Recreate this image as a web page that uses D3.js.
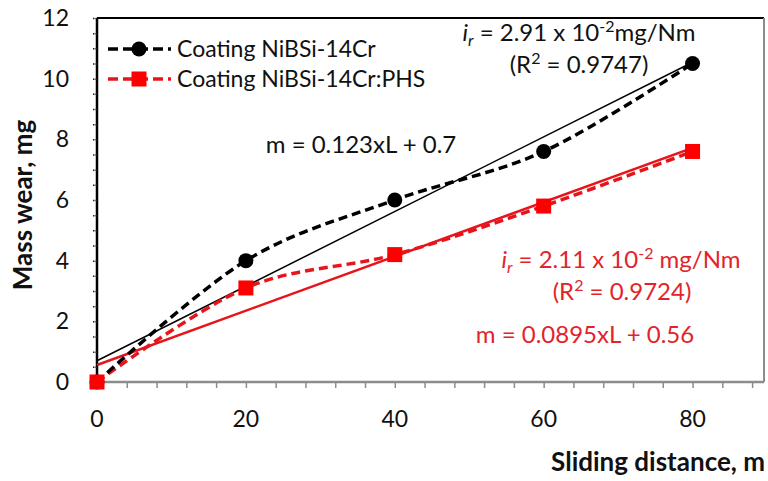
<!DOCTYPE html>
<html>
<head>
<meta charset="utf-8">
<script src="https://cdn.jsdelivr.net/npm/d3@7"></script>
<style>
  body { margin: 0; background: #fff; }
  text { font-family: Lato, 'Open Sans', sans-serif; }
</style>
</head>
<body>
<script>

// sliding distance, m
var distance = [0, 20, 40, 60, 80];
// mass wear, mg
var wearNiBSi = [0, 4, 6, 7.6, 10.5];
var wearPHS = [0, 3.1, 4.2, 5.8, 7.6];

var seriesNames = ['Coating NiBSi-14Cr', 'Coating NiBSi-14Cr:PHS'];

// linear fits m = a*L + b
var fitNiBSi = [0.123, 0.7];
var fitPHS = [0.0895, 0.56];

var xTicks = [0, 20, 40, 60, 80];
var yTicks = [0, 2, 4, 6, 8, 10, 12];

var black = '#000',
    red = '#ff0000',
    redText = '#e3232b';

var width = 768,
    height = 481;

var svg = d3.select('body').append('svg')
    .attr('width', width)
    .attr('height', height);

var x = d3.scaleLinear().domain([0, 90]).range([97, 767]);
var y = d3.scaleLinear().domain([0, 12]).range([382, 18]);

// frame: top black, right grey
svg.append('line')
    .attr('x1', x(0)).attr('x2', x(89.6))
    .attr('y1', y(12)).attr('y2', y(12))
    .attr('stroke', black).attr('stroke-width', 2);
svg.append('line')
    .attr('x1', x(89.6)).attr('x2', x(89.6))
    .attr('y1', y(12)).attr('y2', y(0))
    .attr('stroke', '#8c8c8c').attr('stroke-width', 2);

// x axis (grey, minor ticks every 4)
var xAxis = d3.axisBottom(x)
    .tickValues(d3.range(0, 89, 4))
    .tickSize(6)
    .tickFormat('');

var gx = svg.append('g')
    .attr('transform', 'translate(0,' + y(0) + ')')
    .call(xAxis);
gx.select('.domain').attr('stroke', '#8c8c8c').attr('stroke-width', 2.5)
    .attr('d', 'M' + x(0) + ',0H' + x(89.6));
gx.selectAll('.tick line').attr('stroke', '#8c8c8c').attr('stroke-width', 1.5);

svg.append('g').selectAll('text')
    .data(xTicks)
    .enter().append('text')
    .attr('x', function(d) { return x(d); })
    .attr('y', 427)
    .attr('text-anchor', 'middle')
    .attr('font-size', '23px')
    .attr('fill', '#111')
    .text(function(d) { return d; });

// y axis (black, minor ticks every 0.5)
var yAxis = d3.axisLeft(y)
    .tickValues(d3.range(0, 12.01, 0.5))
    .tickSize(4)
    .tickFormat('');

var gy = svg.append('g')
    .attr('transform', 'translate(' + x(0) + ',0)')
    .call(yAxis);
gy.select('.domain').attr('stroke', black).attr('stroke-width', 2.5)
    .attr('d', 'M0,' + y(12) + 'V' + y(0));
gy.selectAll('.tick line').attr('stroke', '#222').attr('stroke-width', 1.5)
    .attr('stroke-dasharray', '1.5,1');

svg.append('g').selectAll('text')
    .data(yTicks)
    .enter().append('text')
    .attr('x', 69)
    .attr('y', function(d) { return y(d) + 8; })
    .attr('text-anchor', 'end')
    .attr('font-size', '23px')
    .attr('fill', '#111')
    .text(function(d) { return d; });

// axis titles
svg.append('text')
    .attr('text-anchor', 'end')
    .attr('x', 765)
    .attr('y', 471)
    .attr('font-size', '26px')
    .attr('font-weight', 'bold')
    .attr('fill', '#111')
    .text('Sliding distance, m');

svg.append('text')
    .attr('text-anchor', 'middle')
    .attr('transform', 'translate(32,205)rotate(-90)')
    .attr('font-size', '26px')
    .attr('font-weight', 'bold')
    .attr('fill', '#111')
    .text('Mass wear, mg');

// trend lines
function fitLine(fit, color, w) {
    svg.append('line')
        .attr('x1', x(0)).attr('y1', y(fit[1]))
        .attr('x2', x(80)).attr('y2', y(fit[0] * 80 + fit[1]))
        .attr('stroke', color)
        .attr('stroke-width', w);
}
fitLine(fitNiBSi, black, 1.5);
fitLine(fitPHS, '#e8141b', 2.5);

// smoothed dashed series
var line = d3.line()
    .x(function(d) { return x(d[0]); })
    .y(function(d) { return y(d[1]); })
    .curve(d3.curveCatmullRom.alpha(0));

svg.append('path')
    .datum(d3.zip(distance, wearPHS))
    .attr('d', line)
    .attr('fill', 'none')
    .attr('stroke', '#e8141b')
    .attr('stroke-width', 3.5)
    .attr('stroke-dasharray', '9,5');

svg.append('path')
    .datum(d3.zip(distance, wearNiBSi))
    .attr('d', line)
    .attr('fill', 'none')
    .attr('stroke', black)
    .attr('stroke-width', 3.5)
    .attr('stroke-dasharray', '9,5');

svg.append('g').selectAll('circle')
    .data(d3.zip(distance, wearNiBSi))
    .enter().append('circle')
    .attr('cx', function(d) { return x(d[0]); })
    .attr('cy', function(d) { return y(d[1]); })
    .attr('r', 7.5)
    .attr('fill', black);

svg.append('g').selectAll('rect')
    .data(d3.zip(distance, wearPHS))
    .enter().append('rect')
    .attr('x', function(d) { return x(d[0]) - 7.5; })
    .attr('y', function(d) { return y(d[1]) - 7.5; })
    .attr('width', 15)
    .attr('height', 15)
    .attr('fill', red);

// legend
var legend = svg.append('g');
var legRows = [
    {name: seriesNames[0], color: black, y: 49, shape: 'circle'},
    {name: seriesNames[1], color: '#e8141b', y: 79, shape: 'rect'}
];
legRows.forEach(function(r) {
    legend.append('line')
        .attr('x1', 108).attr('x2', 171)
        .attr('y1', r.y).attr('y2', r.y)
        .attr('stroke', r.color)
        .attr('stroke-width', 3.5)
        .attr('stroke-dasharray', '10,5');
    if (r.shape == 'circle') {
        legend.append('circle')
            .attr('cx', 139).attr('cy', r.y).attr('r', 7.5).attr('fill', black);
    } else {
        legend.append('rect')
            .attr('x', 131.5).attr('y', r.y - 7.5)
            .attr('width', 15).attr('height', 15).attr('fill', red);
    }
    legend.append('text')
        .attr('x', 177)
        .attr('y', r.y + 8)
        .attr('font-size', '23px')
        .attr('fill', '#111')
        .text(r.name);
});

// annotations
function irText(cx, by, val, color, gap) {
    var t = svg.append('text')
        .attr('x', cx).attr('y', by)
        .attr('text-anchor', 'middle')
        .attr('font-size', '24px')
        .attr('fill', color);
    t.append('tspan').attr('font-style', 'italic').text('i');
    t.append('tspan').attr('font-style', 'italic').attr('font-size', '16px')
        .attr('dy', 5).text('r');
    t.append('tspan').attr('dy', -5).text(' = ' + val + ' x 10');
    t.append('tspan').attr('font-size', '16px').attr('dy', -9).text('-2');
    t.append('tspan').attr('dy', 9).text(gap + 'mg/Nm');
}
function r2Text(cx, by, val, color) {
    var t = svg.append('text')
        .attr('x', cx).attr('y', by)
        .attr('text-anchor', 'middle')
        .attr('font-size', '24px')
        .attr('fill', color);
    t.append('tspan').text('(R');
    t.append('tspan').attr('font-size', '16px').attr('dy', -9).text('2');
    t.append('tspan').attr('dy', 9).text(' = ' + val + ')');
}
function eqText(cx, by, fit, color) {
    svg.append('text')
        .attr('x', cx).attr('y', by)
        .attr('text-anchor', 'middle')
        .attr('font-size', '24px')
        .attr('fill', color)
        .text('m = ' + fit[0] + 'xL + ' + fit[1]);
}

irText(579, 41, '2.91', '#111', '');
r2Text(579, 73, '0.9747', '#111');
eqText(361, 153, fitNiBSi, '#111');

irText(621, 268, '2.11', redText, ' ');
r2Text(622, 300, '0.9724', redText);
eqText(585, 343, fitPHS, redText);

</script>
</body>
</html>
